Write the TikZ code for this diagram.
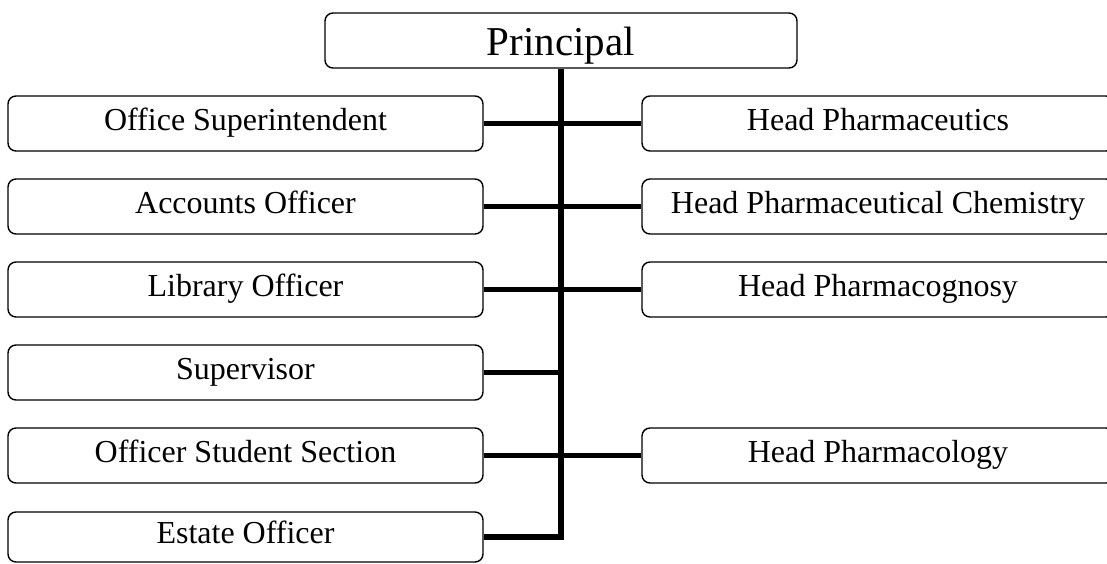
\documentclass[tikz,border=0pt]{standalone}
\usepackage{fontspec}
\setmainfont{Liberation Serif}
\begin{document}
\begin{tikzpicture}[x=1pt,y=-1pt,
  box/.style={draw=black,line width=1.4pt,rounded corners=8pt,inner sep=0pt,
    minimum height=55pt,text height=22pt,text depth=9pt,font=\fontsize{32}{36}\selectfont},
  lbox/.style={box,minimum width=475pt},
  rbox/.style={box,minimum width=472pt},
  conn/.style={line width=5.5pt}]
\useasboundingbox (0,0) rectangle (1107,563);
\begin{scope}
\clip (0,0) rectangle (1107,563);
\node[box,minimum width=472pt,text height=30pt,text depth=1pt,font=\fontsize{41}{46}\selectfont] (pr) at (561,40.5) {Principal};
\node[lbox] (os) at (245.5,123.5) {Office Superintendent};
\node[lbox] (ao) at (245.5,206.5) {Accounts Officer};
\node[lbox] (lo) at (245.5,289.5) {Library Officer};
\node[lbox] (su) at (245.5,372.5) {Supervisor};
\node[lbox,minimum height=50pt] (eo) at (245.5,537) {Estate Officer};
\node[lbox] (ss) at (245.5,455.5) {Officer Student Section};
\node[rbox] (hp) at (878,123.5) {Head Pharmaceutics};
\node[rbox] (hc) at (878,206.5) {Head Pharmaceutical Chemistry};
\node[rbox] (hg) at (878,289.5) {Head Pharmacognosy};
\node[rbox] (hl) at (878,455.5) {Head Pharmacology};
\draw[conn] (pr.south) -- (pr.south |- eo.east) -- (eo.east);
\draw[conn] (os.east) -- (hp.west);
\draw[conn] (ao.east) -- (hc.west);
\draw[conn] (lo.east) -- (hg.west);
\draw[conn] (su.east) -- (su.east -| pr.south);
\draw[conn] (ss.east) -- (hl.west);
\end{scope}
\end{tikzpicture}
\end{document}
